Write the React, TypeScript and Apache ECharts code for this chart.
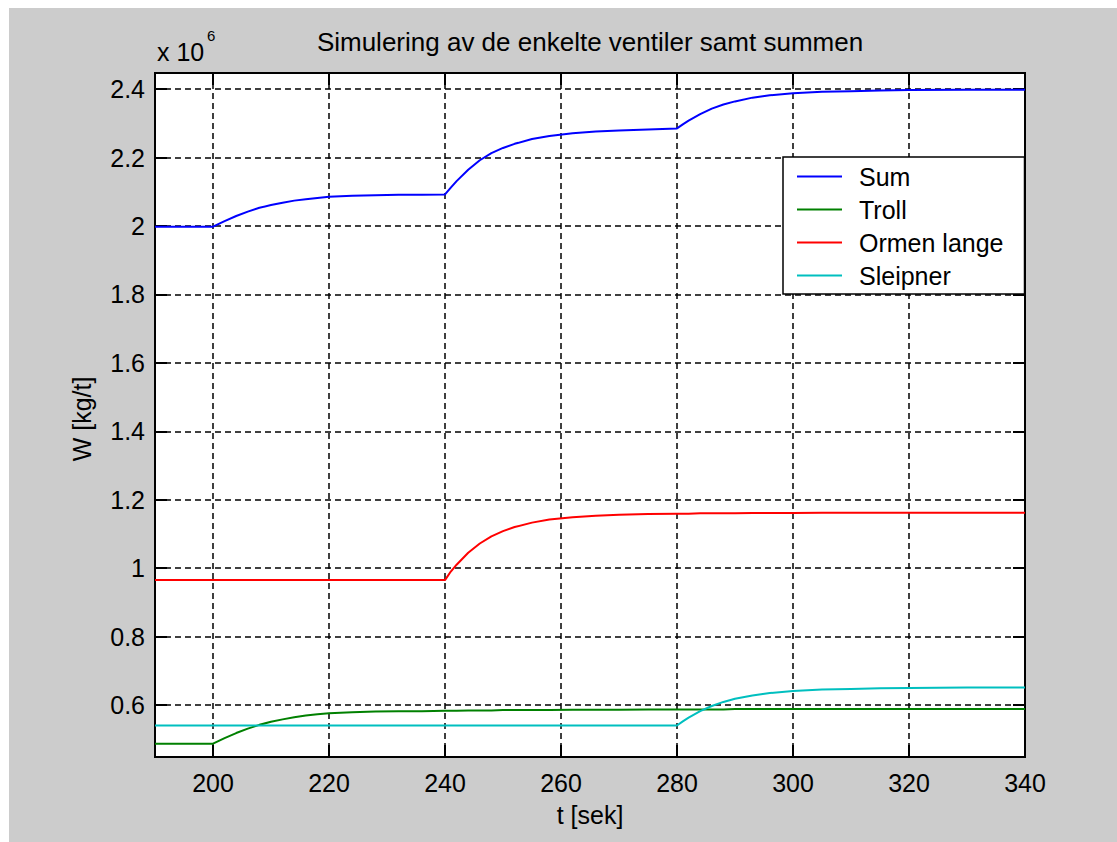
import React, { useEffect, useRef } from "react";
import * as echarts from "echarts";

// time axis (sek)
const t = [190, 200, 201, 202, 204, 206, 208, 210, 212, 214, 216, 218, 220, 224, 228, 232, 236, 240, 241, 242, 244, 246, 248, 250, 252, 255, 258, 262, 266, 270, 275, 280, 281, 282, 284, 286, 288, 290, 293, 296, 300, 305, 310, 315, 320, 330, 340];

// values in units of 1e6 kg/t
const sumValues = [1.998, 1.998, 2.006, 2.014, 2.029, 2.042, 2.053, 2.061, 2.068, 2.074, 2.078, 2.082, 2.085, 2.088, 2.09, 2.091, 2.091, 2.092, 2.112, 2.131, 2.164, 2.192, 2.213, 2.228, 2.24, 2.254, 2.263, 2.271, 2.276, 2.279, 2.282, 2.285, 2.297, 2.308, 2.327, 2.343, 2.355, 2.364, 2.375, 2.382, 2.388, 2.392, 2.394, 2.396, 2.397, 2.398, 2.398];
const trollValues = [0.487, 0.487, 0.495, 0.503, 0.518, 0.531, 0.542, 0.551, 0.558, 0.564, 0.569, 0.573, 0.576, 0.579, 0.581, 0.582, 0.582, 0.583, 0.583, 0.583, 0.584, 0.584, 0.584, 0.585, 0.585, 0.585, 0.585, 0.586, 0.586, 0.586, 0.587, 0.587, 0.587, 0.587, 0.587, 0.587, 0.587, 0.588, 0.588, 0.588, 0.588, 0.588, 0.588, 0.588, 0.588, 0.588, 0.588];
const ormenValues = [0.965, 0.965, 0.965, 0.965, 0.965, 0.965, 0.965, 0.965, 0.965, 0.965, 0.965, 0.965, 0.965, 0.965, 0.965, 0.965, 0.965, 0.965, 0.99, 1.01, 1.045, 1.072, 1.093, 1.108, 1.12, 1.133, 1.142, 1.149, 1.153, 1.156, 1.158, 1.159, 1.159, 1.159, 1.16, 1.16, 1.16, 1.16, 1.161, 1.161, 1.161, 1.162, 1.162, 1.162, 1.162, 1.162, 1.162];
const sleipnerValues = [0.54, 0.54, 0.54, 0.54, 0.54, 0.54, 0.54, 0.54, 0.54, 0.54, 0.54, 0.54, 0.54, 0.54, 0.54, 0.54, 0.54, 0.54, 0.54, 0.54, 0.54, 0.54, 0.54, 0.54, 0.54, 0.54, 0.54, 0.54, 0.54, 0.54, 0.54, 0.54, 0.552, 0.563, 0.582, 0.597, 0.609, 0.618, 0.628, 0.635, 0.641, 0.645, 0.647, 0.649, 0.65, 0.651, 0.651];

const seriesNames = ["Sum", "Troll", "Ormen lange", "Sleipner"];
const seriesColors = ["#0000ff", "#008000", "#ff0000", "#00bfbf"];
const seriesValues = [sumValues, trollValues, ormenValues, sleipnerValues];

const FONT = "'Liberation Sans', Arial, sans-serif";

export default function App() {
  const ref = useRef<HTMLDivElement>(null);
  useEffect(() => {
    if (!ref.current) return;
    const chart = echarts.init(ref.current, undefined, { renderer: "svg" });
    const tickStyle = { show: true, inside: true, length: 12, lineStyle: { color: "#000", width: 2 } };
    const axisLine = { show: true, onZero: false, lineStyle: { color: "#000", width: 2 } };
    const gridLine = { show: true, lineStyle: { color: "#000", width: 1.5, type: [6, 4] as any } };
    const yFmt = (v: number) => {
      const r = Math.round(v * 5) / 5;
      if (Math.abs(v - r) > 1e-6) return "";
      return String(Math.round(v * 10) / 10);
    };
    const xFmt = (v: number) => (Math.abs(v % 20) > 1e-6 ? "" : String(v));
    chart.setOption({
      animation: false,
      backgroundColor: "#cccccc",
      textStyle: { fontFamily: FONT },
      grid: { left: 146, top: 65, right: 92, bottom: 85, show: true, backgroundColor: "#ffffff", borderColor: "#000", borderWidth: 2 },
      xAxis: [
        {
          type: "value", min: 190, max: 340, splitNumber: 8, position: "bottom",
          axisLine, axisTick: tickStyle, splitLine: gridLine,
          axisLabel: { color: "#000", fontSize: 25, fontFamily: FONT, margin: 13, formatter: xFmt, showMinLabel: false },
        },
        {
          type: "value", min: 190, max: 340, splitNumber: 8, position: "top",
          axisLine, axisTick: tickStyle, splitLine: { show: false }, axisLabel: { show: false },
        },
      ],
      yAxis: [
        {
          type: "value", min: 0.448, max: 2.447, splitNumber: 10, position: "left",
          axisLine, axisTick: tickStyle, splitLine: gridLine,
          axisLabel: { color: "#000", fontSize: 25, fontFamily: FONT, margin: 10, formatter: yFmt, showMinLabel: false, showMaxLabel: false },
        },
        {
          type: "value", min: 0.448, max: 2.447, splitNumber: 10, position: "right",
          axisLine, axisTick: tickStyle, splitLine: { show: false }, axisLabel: { show: false },
        },
      ],
      legend: {
        orient: "vertical",
        left: 774,
        top: 149,
        data: seriesNames,
        icon: "rect",
        itemWidth: 45,
        itemHeight: 2,
        itemGap: 0,
        padding: [3, 21, 2, 14],
        backgroundColor: "#ffffff",
        borderColor: "#000",
        borderWidth: 1.5,
        selectedMode: false,
        textStyle: { color: "#000", fontSize: 25, fontFamily: FONT, lineHeight: 33, padding: [0, 0, 0, 12] },
      },
      graphic: [
        { type: "text", x: 581, y: 34, style: { text: "Simulering av de enkelte ventiler samt summen", fontSize: 26, fontFamily: FONT, fill: "#000", align: "center", verticalAlign: "middle" } },
        { type: "text", x: 148, y: 44, style: { text: "x 10", fontSize: 25, fontFamily: FONT, fill: "#000", align: "left", verticalAlign: "middle" } },
        { type: "text", x: 198, y: 27, style: { text: "6", fontSize: 15, fontFamily: FONT, fill: "#000", align: "left", verticalAlign: "middle" } },
        { type: "text", x: 73, y: 411, rotation: Math.PI / 2, style: { text: "W [kg/t]", fontSize: 25, fontFamily: FONT, fill: "#000", align: "center", verticalAlign: "middle" } },
        { type: "text", x: 581, y: 807, style: { text: "t [sek]", fontSize: 25, fontFamily: FONT, fill: "#000", align: "center", verticalAlign: "middle" } },
      ],
      series: seriesNames.map((name, i) => ({
        name,
        type: "line",
        xAxisIndex: 0,
        yAxisIndex: 0,
        showSymbol: false,
        symbol: "none",
        color: seriesColors[i],
        lineStyle: { color: seriesColors[i], width: 2 },
        data: t.map((x, j) => [x, seriesValues[i][j]]),
      })),
    });
    return () => chart.dispose();
  }, []);
  return <div ref={ref} style={{ position: "fixed", left: 9, top: 8, width: 1108, height: 834 }} />;
}
